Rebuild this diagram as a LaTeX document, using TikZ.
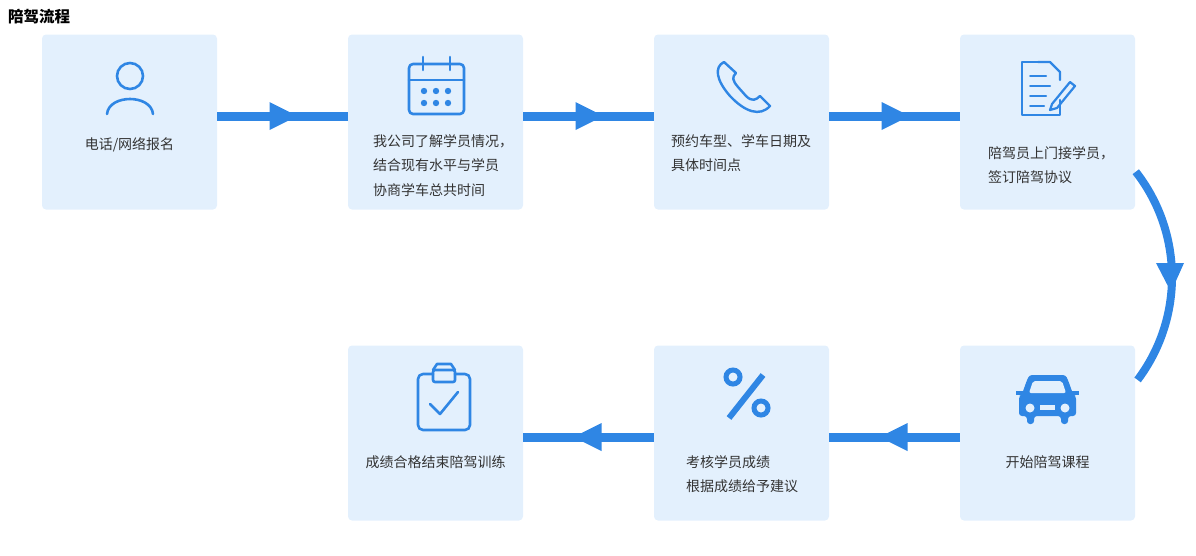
\documentclass[tikz,border=0pt]{standalone}
\usepackage{fontspec}
\setmainfont{Noto Sans CJK SC}
\begin{document}
\begin{tikzpicture}[x=1pt,y=-1pt,
  box/.style={fill=boxc,rounded corners=4pt,minimum width=175pt,minimum height=175pt,inner sep=0},
  txt/.style={font=\fontsize{14}{24.5}\selectfont,text=txtc,align=left,inner sep=0},
  ln/.style={draw=bl,line width=9pt},
  ic/.style={draw=bl,line width=2.6pt,line cap=round,line join=round}]
\definecolor{boxc}{HTML}{E3F0FD}
\definecolor{bl}{HTML}{2F86E4}
\definecolor{txtc}{HTML}{333333}
\useasboundingbox (0,0) rectangle (1196,555);
\node[anchor=west,font=\bfseries\fontsize{15.5}{16}\selectfont,inner sep=0] (title) at (8,17) {陪驾流程};
\node[box] (b1) at (129.5,122) {};
\node[box] (b2) at (435.5,122) {};
\node[box] (b3) at (741.5,122) {};
\node[box] (b4) at (1047.5,122) {};
\node[box] (b5) at (1047.5,433) {};
\node[box] (b6) at (741.5,433) {};
\node[box] (b7) at (435.5,433) {};
% arrows top
\foreach \a/\b in {b1/b2,b2/b3,b3/b4}{
  \draw[ln] (\a.east|-0,116) -- (\b.west|-0,116);
  \path (\a.east|-0,116) -- coordinate[pos=0.5] (m) (\b.west|-0,116);
  \fill[bl] ([xshift=-13pt,yshift=-14pt]m) -- ([xshift=15pt]m) -- ([xshift=-13pt,yshift=14pt]m) -- cycle;
}
\foreach \a/\b in {b5/b6,b6/b7}{
  \draw[ln] (\a.west|-0,437) -- (\b.east|-0,437);
  \path (\a.west|-0,437) -- coordinate[pos=0.5] (m) (\b.east|-0,437);
  \fill[bl] ([xshift=13pt,yshift=-14pt]m) -- ([xshift=-15pt]m) -- ([xshift=13pt,yshift=14pt]m) -- cycle;
}
% arc
\draw[ln,line width=8pt] (1001,277) ++(-38:171) arc[start angle=-38,end angle=37,radius=171];
\fill[bl] (1156,263) -- (1184,263) -- (1171,292) -- cycle;
% texts
\node[txt] (t1) at (129.5,145) {电话/网络报名};
\node[txt,anchor=north west] (t2) at (373,134) {我公司了解学员情况，\\结合现有水平与学员\\协商学车总共时间};
\node[txt,anchor=north west] (t3) at (671,134) {预约车型、学车日期及\\具体时间点};
\node[txt,anchor=north west] (t4) at (988,146) {陪驾员上门接学员，\\签订陪驾协议};
\node[txt] (t5) at (1047.5,462) {开始陪驾课程};
\node[txt,anchor=north west] (t6) at (686,455) {考核学员成绩\\根据成绩给予建议};
\node[txt] (t7) at (435.5,462) {成绩合格结束陪驾训练};
% icon person
\draw[ic] (130,76) circle (13);
\draw[ic] (107,114) .. controls (109,94) and (151,94) .. (153,114);
% calendar
\draw[ic,rounded corners=4pt] (409,64) rectangle (464,114);
\draw[ic] (409,80) -- (464,80);
\draw[ic] (423,57) -- (423,70); \draw[ic] (450,57) -- (450,70); \draw[ic] (431,64)--(442,64);
\foreach \x in {424,436,448}{\fill[bl] (\x,91) circle (3.2); \fill[bl] (\x,103) circle (3.2);}
% phone
\draw[ic,line width=2.4pt] (724,62) .. controls (714,67) and (716,80) .. (730,96) .. controls (745,112) and (760,117) .. (770,106) -- (760,96) .. controls (756,100) and (752,102) .. (746,96) -- (738,87) .. controls (732,80) and (732,77) .. (736,73) -- cycle;
% document
\draw[ic,line width=2.2pt] (1038,62) -- (1022,62) -- (1022,115) -- (1060,115) -- (1060,100);
\draw[ic,line width=2.2pt] (1038,62) -- (1050,62) -- (1060,72) -- (1060,80);
\draw[ic,line width=2pt] (1030,76)--(1046,76) (1030,86)--(1050,86) (1030,96)--(1046,96) (1030,106)--(1044,106);
\draw[ic,line width=2.2pt] (1052,104) -- (1070,82) -- (1075,86) -- (1057,108) -- (1050,110) -- cycle;
% car
\fill[bl,rounded corners=3pt] (1022,394) -- (1027,380) .. controls (1029,376) and (1031,375) .. (1035,375) -- (1060,375) .. controls (1064,375) and (1066,376) .. (1068,380) -- (1073,394) -- (1076,396) -- (1076,416) -- (1068,416) -- (1068,424) -- (1061,424) -- (1061,416) -- (1034,416) -- (1034,424) -- (1027,424) -- (1027,416) -- (1019,416) -- (1019,396) -- cycle;
\fill[bl] (1016,391) rectangle (1079,395);
\fill[boxc,rounded corners=2pt] (1033,381) -- (1062,381) -- (1066,393) -- (1029,393) -- cycle;
\fill[boxc] (1030,408) circle (4.5) (1065,408) circle (4.5);
\fill[boxc] (1040,405) rectangle (1055,410);
% percent
\draw[bl,line width=5pt] (733,377) circle (7) (761,408) circle (7);
\draw[bl,line width=6pt] (763,375) -- (729,418);
% clipboard
\draw[ic,rounded corners=5pt] (433,374) -- (418,374) -- (418,430) -- (470,430) -- (470,374) -- (455,374);
\draw[ic,rounded corners=2pt] (433,370) rectangle (455,382);
\draw[ic] (433,370) -- (437,364) -- (451,364) -- (455,370);
\draw[ic] (430,404) -- (440,414) -- (458,392);
\end{tikzpicture}
\end{document}
